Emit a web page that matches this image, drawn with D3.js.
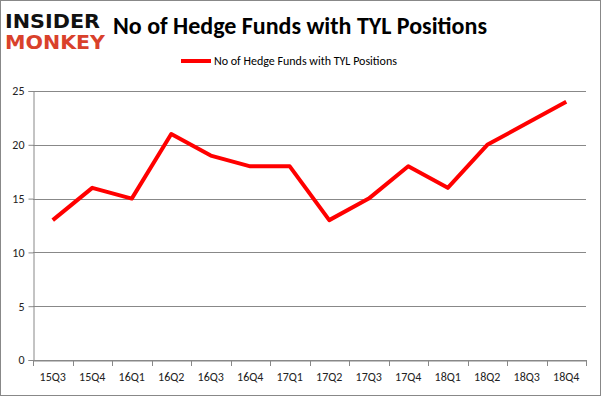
<!DOCTYPE html>
<html>
<head>
<meta charset="utf-8">
<script src="https://cdn.jsdelivr.net/npm/d3@7"></script>
<style>
  body { margin: 0; background: #fff; }
  svg { display: block; }
</style>
</head>
<body>
<svg id="chart" width="601" height="396"></svg>
<script>
const quarters = ['15Q3', '15Q4', '16Q1', '16Q2', '16Q3', '16Q4', '17Q1',
  '17Q2', '17Q3', '17Q4', '18Q1', '18Q2', '18Q3', '18Q4'];
const funds = [13, 16, 15, 21, 19, 18, 18, 13, 15, 18, 16, 20, 22, 24];
const yTicks = [0, 5, 10, 15, 20, 25];

const seriesName = 'No of Hedge Funds with TYL Positions';
const font = 'Carlito, Calibri, "Open Sans", "Liberation Sans", sans-serif';

const svg = d3.select('#chart');
const margin = { top: 91, right: 15, bottom: 36, left: 33 };
const width = 601, height = 396;

// outer frame
svg.append('rect')
  .attr('x', 0.5).attr('y', 0.5)
  .attr('width', width - 1).attr('height', height - 1)
  .attr('fill', '#fff').attr('stroke', '#888').attr('stroke-width', 1);

const x = d3.scaleBand()
  .domain(quarters)
  .range([margin.left, width - margin.right]);

const y = d3.scaleLinear()
  .domain([0, 25])
  .range([height - margin.bottom, margin.top]);

// gridlines
svg.append('g')
  .selectAll('line')
  .data(yTicks)
  .join('line')
  .attr('x1', margin.left).attr('x2', width - margin.right)
  .attr('y1', d => Math.round(y(d)) + 0.5).attr('y2', d => Math.round(y(d)) + 0.5)
  .attr('stroke', '#888').attr('stroke-width', 1);

// y axis
const yAxis = svg.append('g')
  .attr('transform', `translate(${margin.left + 0.5},0)`)
  .call(d3.axisLeft(y).tickValues(yTicks).tickSize(5).tickPadding(4));
yAxis.select('.domain').attr('stroke', '#888');
yAxis.selectAll('.tick line').attr('stroke', '#888');
yAxis.selectAll('.tick text')
  .attr('fill', '#222').style('font-family', font).style('font-size', '12px');

// x axis
const xAxis = svg.append('g')
  .attr('transform', `translate(0,${Math.round(y(0)) + 0.5})`)
  .call(d3.axisBottom(x).tickSize(0).tickPadding(12));
xAxis.select('.domain').attr('stroke', '#888');
xAxis.selectAll('.tick text')
  .attr('fill', '#222').style('font-family', font).style('font-size', '12px');

// x ticks sit between the categories
svg.append('g')
  .selectAll('line')
  .data(quarters.concat(['end']))
  .join('line')
  .attr('x1', (d, i) => Math.round(margin.left + i * x.step()) + 0.5)
  .attr('x2', (d, i) => Math.round(margin.left + i * x.step()) + 0.5)
  .attr('y1', Math.round(y(0))).attr('y2', Math.round(y(0)) + 6)
  .attr('stroke', '#888');

// line
const line = d3.line()
  .x((d, i) => x(quarters[i]) + x.bandwidth() / 2)
  .y(d => y(d));

svg.append('path')
  .datum(funds)
  .attr('d', line)
  .attr('fill', 'none')
  .attr('stroke', '#ff0000')
  .attr('stroke-width', 4)
  .attr('stroke-linejoin', 'round');

// title
svg.append('text')
  .attr('x', 300).attr('y', 34)
  .attr('text-anchor', 'middle')
  .style('font-family', font).style('font-size', '24px').style('font-weight', 'bold')
  .attr('fill', '#000')
  .text(seriesName);

// legend
svg.append('line')
  .attr('x1', 181).attr('x2', 211).attr('y1', 61).attr('y2', 61)
  .attr('stroke', '#ff0000').attr('stroke-width', 4);
svg.append('text')
  .attr('x', 214).attr('y', 65)
  .style('font-family', font).style('font-size', '12px')
  .attr('fill', '#000')
  .text(seriesName);

// logo
svg.append('text')
  .attr('x', 5).attr('y', 28)
  .attr('textLength', 95).attr('lengthAdjust', 'spacingAndGlyphs')
  .style('font-family', '"DejaVu Sans", sans-serif').style('font-size', '19px').style('font-weight', 'bold')
  .attr('fill', '#111')
  .text('INSIDER');
svg.append('text')
  .attr('x', 5).attr('y', 49)
  .attr('textLength', 100).attr('lengthAdjust', 'spacingAndGlyphs')
  .style('font-family', '"DejaVu Sans", sans-serif').style('font-size', '19px').style('font-weight', 'bold')
  .attr('fill', '#d9412b')
  .text('MONKEY');
</script>
</body>
</html>
